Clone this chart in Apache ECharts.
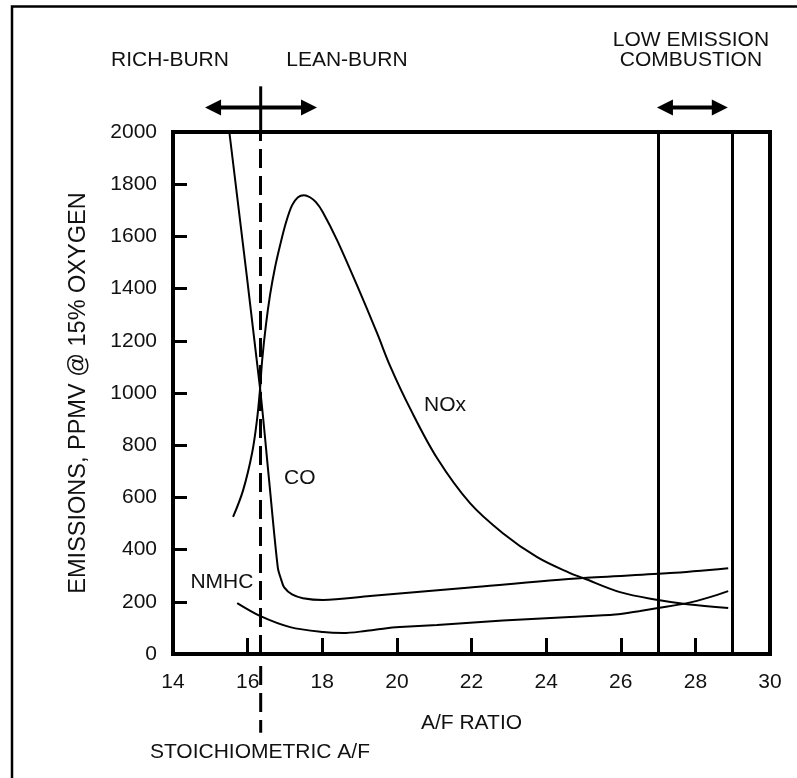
<!DOCTYPE html>
<html><head><meta charset="utf-8">
<script src="https://cdn.jsdelivr.net/npm/echarts@6/dist/echarts.min.js"></script>
<style>html,body{margin:0;padding:0;background:#fff}#c{width:797px;height:778px}</style>
</head><body><div id="c"></div>
<script>
// A/F ratio (x) and emissions ppmv (y)
const coX   = [15.51, 16.33, 16.57, 16.81, 16.90, 16.98, 17.19, 17.48, 18.02, 19.28, 21.96, 24.99, 27.32, 28.88];
const coY   = [2000, 1022, 674, 330, 285, 255, 228, 214, 207, 222, 255, 291, 310, 329];
const noxX  = [15.61, 15.88, 16.12, 16.25, 16.33, 16.39, 16.49, 16.60, 16.73, 16.87, 17.03, 17.19, 17.35, 17.51, 17.67, 17.83, 18.02, 18.40, 18.93, 19.47, 19.82, 20.35, 21.08, 21.96, 22.84, 23.76, 24.64, 24.99, 25.98, 27.00, 27.78, 28.88];
const noxY  = [525, 628, 770, 896, 1011, 1126, 1260, 1375, 1478, 1566, 1654, 1719, 1750, 1758, 1750, 1731, 1692, 1585, 1413, 1229, 1103, 942, 750, 578, 463, 371, 310, 291, 237, 207, 191, 176];
const nmhcX = [15.72, 16.33, 17.14, 18.02, 18.56, 19.15, 19.68, 20.08, 21.08, 22.84, 24.64, 25.85, 26.52, 27.00, 27.78, 28.39, 28.88];
const nmhcY = [195, 146, 103, 84, 80, 88, 98, 103, 111, 128, 142, 151, 165, 176, 195, 218, 241];
const stoichAF = 16.35;
const lowEmission = [27, 29];
const xMin = 14, xMax = 30, xStep = 2;
const yMin = 0, yMax = 2000, yStep = 200;

const FONT = "'Liberation Sans', Arial, sans-serif";
const INK = '#111';
const zip = (a, b) => a.map((v, i) => [v, b[i]]);

const chart = echarts.init(document.getElementById('c'), null, {renderer: 'canvas'});
const lineStyle = {color: '#000', width: 2};
chart.setOption({
  animation: false,
  backgroundColor: '#fff',
  grid: {left: 173, right: 27, top: 132, bottom: 124, show: true, borderColor: '#000', borderWidth: 4, containLabel: false},
  xAxis: {
    type: 'value', min: xMin, max: xMax, interval: xStep,
    name: 'A/F RATIO', nameLocation: 'middle', nameGap: 59,
    nameTextStyle: {fontFamily: FONT, fontSize: 21, color: INK},
    axisLine: {lineStyle: {color: '#000', width: 4}},
    axisTick: {inside: true, length: 16, lineStyle: {color: '#000', width: 3}},
    axisLabel: {fontFamily: FONT, fontSize: 21, color: INK, margin: 18},
    splitLine: {show: false}
  },
  yAxis: {
    type: 'value', min: yMin, max: yMax, interval: yStep,
    name: 'EMISSIONS, PPMV @ 15% OXYGEN', nameLocation: 'middle', nameGap: 82,
    nameTextStyle: {fontFamily: FONT, fontSize: 23.5, color: INK},
    axisLine: {lineStyle: {color: '#000', width: 4}},
    axisTick: {inside: true, length: 14, lineStyle: {color: '#000', width: 3}},
    axisLabel: {fontFamily: FONT, fontSize: 21, color: INK, margin: 16, formatter: v => String(v)},
    splitLine: {show: false}
  },
  series: [
    {type: 'line', name: 'CO', data: zip(coX, coY), smooth: 0.3, showSymbol: false, lineStyle,
     markLine: {silent: true, symbol: 'none', label: {show: false},
       lineStyle: {color: '#000', width: 3, type: 'solid'},
       data: lowEmission.map(v => ({xAxis: v}))}},
    {type: 'line', name: 'NOx', data: zip(noxX, noxY), smooth: 0.35, showSymbol: false, lineStyle,
     markLine: {silent: true, symbol: 'none', label: {show: false},
       lineStyle: {color: '#000', width: 3, type: [19, 8]},
       data: [{xAxis: stoichAF}]}},
    {type: 'line', name: 'NMHC', data: zip(nmhcX, nmhcY), smooth: 0.3, showSymbol: false, lineStyle}
  ]
});

const P = (x, y) => chart.convertToPixel({gridIndex: 0}, [x, y]);
const g = [];
// outer frame
g.push({type: 'polyline', shape: {points: [[12, 790], [12, 6.5], [800, 6.5]]}, style: {stroke: '#000', lineWidth: 2.5, fill: null}});
// stoichiometric line extension above (solid) and below (dashed)
const sTop = P(stoichAF, 2175), sPlotTop = P(stoichAF, yMax), sPlotBot = P(stoichAF, yMin), sBot = P(stoichAF, -302);
g.push({type: 'line', shape: {x1: sTop[0], y1: sTop[1], x2: sPlotTop[0], y2: sPlotTop[1]}, style: {stroke: '#000', lineWidth: 3}});
g.push({type: 'line', shape: {x1: sPlotBot[0], y1: sPlotBot[1] + 12, x2: sBot[0], y2: sBot[1]}, style: {stroke: '#000', lineWidth: 3, lineDash: [19, 8]}});
// double-headed arrows
function arrow(xa, xb, yv) {
  const a = P(xa, yv), b = P(xb, yv);
  const hl = 16, hh = 8;
  g.push({type: 'line', shape: {x1: a[0] + hl - 2, y1: a[1], x2: b[0] - hl + 2, y2: b[1]}, style: {stroke: '#000', lineWidth: 4}});
  g.push({type: 'polygon', shape: {points: [[a[0], a[1]], [a[0] + hl, a[1] - hh], [a[0] + hl, a[1] + hh]]}, style: {fill: '#000'}});
  g.push({type: 'polygon', shape: {points: [[b[0], b[1]], [b[0] - hl, b[1] - hh], [b[0] - hl, b[1] + hh]]}, style: {fill: '#000'}});
}
arrow(14.86, 17.86, 2094);
arrow(26.97, 28.87, 2094);
// annotations
function txt(s, x, y) {
  const p = P(x, y);
  g.push({type: 'text', x: p[0], y: p[1], style: {text: s, font: '21px ' + FONT, fill: INK, align: 'center', verticalAlign: 'middle'}});
}
txt('RICH-BURN', 13.92, 2274);
txt('LEAN-BURN', 18.66, 2274);
txt('LOW EMISSION', 27.88, 2351);
txt('COMBUSTION', 27.88, 2274);
txt('NOx', 21.29, 953);
txt('CO', 17.40, 674);
txt('NMHC', 15.31, 276);
txt('STOICHIOMETRIC A/F', 16.33, -375);
chart.setOption({graphic: {elements: g}});
</script>
</body></html>
